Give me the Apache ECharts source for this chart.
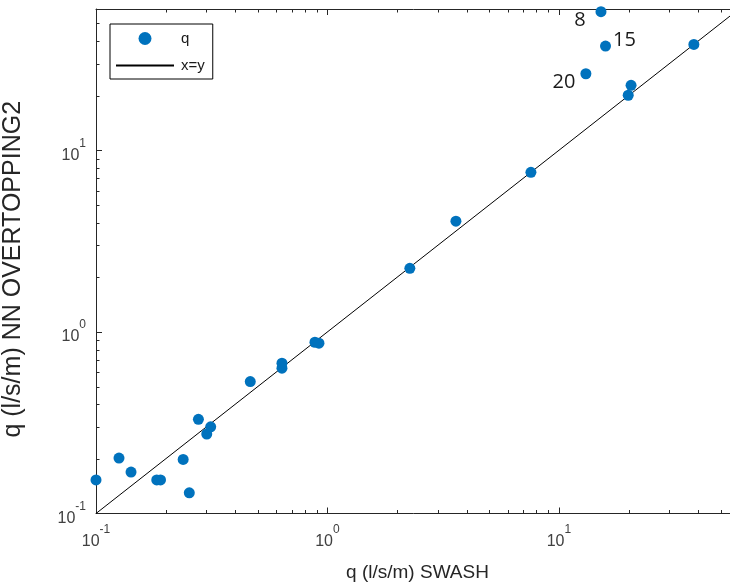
<!DOCTYPE html>
<html>
<head>
<meta charset="utf-8">
<script src="https://cdn.jsdelivr.net/npm/echarts@6/dist/echarts.min.js"></script>
<style>
  html, body { margin: 0; padding: 0; background: #fff; }
  #chart { width: 730px; height: 587px; }
</style>
</head>
<body>
<div id="chart"></div>
<script>
// Overtopping discharge: SWASH model vs neural-network prediction
const swashQ = [0.1, 0.1257, 0.1417, 0.183, 0.190, 0.238, 0.253, 0.277, 0.301, 0.313,
                0.464, 0.636, 0.636, 0.883, 0.919, 2.27, 3.59, 7.57,
                13.08, 15.2, 15.9, 19.93, 20.5, 38.3];
const nnQ = [0.153, 0.202, 0.169, 0.153, 0.153, 0.1985, 0.130, 0.330, 0.274, 0.300,
             0.533, 0.673, 0.631, 0.877, 0.867, 2.24, 4.07, 7.57,
             26.4, 58.0, 37.5, 20.1, 22.8, 38.3];
// Case numbers written next to selected points: [point index, text, dx, dy]
const caseLabels = [[18, '20', -22, 9], [19, '8', -21, 9], [20, '15', 19, -6]];
const axisMin = 0.1, axisMax = 60;
const identityLine = [[axisMin, axisMin], [axisMax, axisMax]];
const minorSteps = [2, 3, 4, 5, 6, 7, 8, 9];

const blue = '#0072BD';
const axisColor = '#262626';

const points = swashQ.map((x, i) => {
  const item = { value: [x, nnQ[i]] };
  const lab = caseLabels.find(c => c[0] === i);
  if (lab) {
    item.label = {
      show: true, position: 'inside', formatter: lab[1], offset: [lab[2], lab[3]],
      fontSize: 20, color: '#1a1a1a', fontFamily: 'Open Sans'
    };
  }
  return item;
});

function powLabel(v) {
  const e = Math.log10(v);
  if (Math.abs(e - Math.round(e)) > 1e-6) return '';
  return '{b|10}{s|' + Math.round(e) + '}';
}
const richPow = {
  b: { fontSize: 16, fontFamily: 'Liberation Sans', color: '#404040', lineHeight: 26, verticalAlign: 'bottom', padding: 0 },
  s: { fontSize: 12, fontFamily: 'Liberation Sans', color: '#404040', verticalAlign: 'top', padding: 0 }
};

function logAxis(extra) {
  return Object.assign({
    type: 'log', logBase: 10, min: axisMin, max: axisMax,
    axisLine: { show: true, onZero: false, lineStyle: { color: axisColor, width: 1 } },
    axisTick: { show: true, inside: true, length: 6, lineStyle: { color: axisColor } },
    splitLine: { show: false },
    minorTick: { show: false }
  }, extra);
}

const chart = echarts.init(document.getElementById('chart'));
chart.setOption({
  animation: false,
  backgroundColor: '#fff',
  // plot box runs slightly past the right edge of the canvas
  grid: { left: 96, top: 9, width: 643, height: 504.5, containLabel: false, outerBoundsMode: 'none' },
  legend: {
    orient: 'vertical', left: 110, top: 24,
    borderColor: '#000', borderWidth: 1, backgroundColor: '#fff',
    padding: [7, 8, 6, 5], itemGap: 12,
    itemWidth: 58, itemHeight: 13,
    textStyle: { fontSize: 15, fontFamily: 'Liberation Sans', color: '#1a1a1a', padding: [0, 0, 0, 2] },
    data: [
      { name: 'q', icon: 'circle' },
      { name: 'x=y', itemStyle: { color: 'rgba(0,0,0,0)', borderWidth: 0, opacity: 0 } }
    ]
  },
  xAxis: [
    logAxis({
      position: 'bottom',
      name: 'q (l/s/m) SWASH', nameLocation: 'middle', nameGap: 50,
      nameTextStyle: { fontSize: 19, fontFamily: 'Liberation Sans', color: '#262626' },
      axisLabel: { formatter: powLabel, rich: richPow, margin: 10 }
    }),
    logAxis({ position: 'top', axisLabel: { show: false } })
  ],
  yAxis: [
    logAxis({
      position: 'left',
      name: 'q (l/s/m) NN OVERTOPPING2', nameLocation: 'middle', nameGap: 70,
      nameTextStyle: { fontSize: 25, fontFamily: 'Liberation Sans', color: '#262626', padding: [0, 16, 0, 0] },
      axisLabel: { formatter: powLabel, rich: richPow, margin: 10 }
    }),
    logAxis({ position: 'right', axisLabel: { show: false } })
  ],
  series: [
    {
      name: 'q', type: 'scatter', data: points, symbol: 'circle', symbolSize: 11,
      itemStyle: { color: blue, opacity: 1 }, clip: false, z: 3
    },
    {
      name: 'x=y', type: 'line', data: identityLine, showSymbol: false, symbol: 'none',
      lineStyle: { color: '#000', width: 1 }, itemStyle: { color: '#000' }, z: 2
    }
  ]
});

// Logarithmic minor ticks (2..9 within each decade) on all four sides
function drawMinorTicks() {
  const els = [];
  const top = chart.convertToPixel({ yAxisIndex: 0 }, axisMax);
  const bottom = chart.convertToPixel({ yAxisIndex: 0 }, axisMin);
  const left = chart.convertToPixel({ xAxisIndex: 0 }, axisMin);
  const right = chart.convertToPixel({ xAxisIndex: 0 }, axisMax);
  const len = 3.5;
  const style = { stroke: axisColor, lineWidth: 1 };
  for (let d = axisMin; d < axisMax; d *= 10) {
    minorSteps.forEach(m => {
      const v = d * m;
      if (v >= axisMax) return;
      const px = Math.round(chart.convertToPixel({ xAxisIndex: 0 }, v)) + 0.5;
      const py = Math.round(chart.convertToPixel({ yAxisIndex: 0 }, v)) + 0.5;
      els.push({ type: 'line', silent: true, shape: { x1: px, y1: bottom, x2: px, y2: bottom - len }, style });
      els.push({ type: 'line', silent: true, shape: { x1: px, y1: top, x2: px, y2: top + len }, style });
      els.push({ type: 'line', silent: true, shape: { x1: left, y1: py, x2: left + len, y2: py }, style });
      els.push({ type: 'line', silent: true, shape: { x1: right, y1: py, x2: right - len, y2: py }, style });
    });
  }
  chart.setOption({ graphic: els });
}
drawMinorTicks();
</script>
</body>
</html>
